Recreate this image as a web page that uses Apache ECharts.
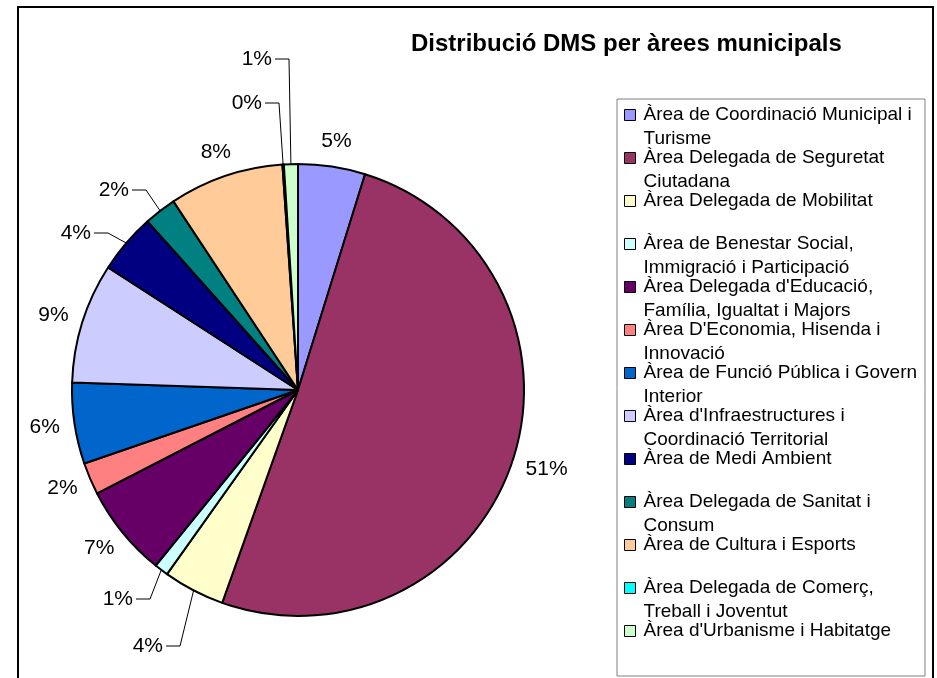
<!DOCTYPE html>
<html>
<head>
<meta charset="utf-8">
<script src="https://cdn.jsdelivr.net/npm/echarts@6/dist/echarts.min.js"></script>
<style>
html, body { margin: 0; padding: 0; background: #fff; }
#chart { width: 937px; height: 678px; }
</style>
</head>
<body>
<div id="chart"></div>
<script>
var categories = [
    "Àrea de Coordinació Municipal i Turisme",
    "Àrea Delegada de Seguretat Ciutadana",
    "Àrea Delegada de Mobilitat",
    "Àrea de Benestar Social, Immigració i Participació",
    "Àrea Delegada d'Educació, Família, Igualtat i Majors",
    "Àrea D'Economia, Hisenda i Innovació",
    "Àrea de Funció Pública i Govern Interior",
    "Àrea d'Infraestructures i Coordinació Territorial",
    "Àrea de Medi Ambient",
    "Àrea Delegada de Sanitat i Consum",
    "Àrea de Cultura i Esports",
    "Àrea Delegada de Comerç, Treball i Joventut",
    "Àrea d'Urbanisme i Habitatge"
];
var shares = [4.8, 50.7, 4.4, 1.0, 6.6, 2.3, 5.8, 8.6, 4.3, 2.3, 8.2, 0.1, 1.0];
var colors = ['#9999FF', '#993366', '#FFFFCC', '#CCFFFF', '#660066', '#FF8080', '#0066CC',
              '#CCCCFF', '#000080', '#008080', '#FFCC99', '#00FFFF', '#CCFFCC'];

// labels that were dragged away in the original, with a leader line: [right edge x, middle y]
var movedLabels = {2: [163, 646], 3: [133, 599], 8: [91, 233], 9: [129, 190], 11: [262, 103], 12: [272, 59]};

var cx = 298, cy = 390, r = 226;
var total = shares.reduce(function(a, b) { return a + b; }, 0);
var midAngles = [];
var acc = 0;
for (var i = 0; i < shares.length; i++) {
    midAngles.push((acc + shares[i] / 2) / total * 2 * Math.PI);
    acc += shares[i];
}

// wrap legend names the way the original legend does (about 31 chars a line)
var wrap = function(name) {
    var words = name.split(' ');
    var lines = [];
    var cur = '';
    for (var i = 0; i < words.length; i++) {
        var next = cur ? cur + ' ' + words[i] : words[i];
        if (next.length > 31 && cur) {
            lines.push(cur);
            cur = words[i];
        } else {
            cur = next;
        }
    }
    lines.push(cur);
    if (lines.length < 2) lines.push(' ');
    // blank first line so the marker lines up with the first text line
    return ' \n' + lines.join('\n');
};

var pieData = [];
for (var i = 0; i < shares.length; i++) {
    pieData.push({
        name: categories[i],
        value: shares[i],
        itemStyle: { color: colors[i] },
        labelLine: { show: !!movedLabels[i] }
    });
}

var option = {
    animation: false,
    title: {
        text: 'Distribució DMS per àrees municipals',
        left: 411,
        top: 32,
        padding: 0,
        textStyle: {
            fontFamily: 'Liberation Sans',
            fontSize: 24,
            fontWeight: 'bold',
            color: '#000'
        }
    },
    legend: {
        orient: 'vertical',
        left: 624,
        top: 79,
        padding: 0,
        itemGap: -29,
        itemWidth: 11,
        itemHeight: 11,
        icon: 'rect',
        selectedMode: false,
        itemStyle: { borderColor: '#000', borderWidth: 1 },
        formatter: wrap,
        textStyle: {
            fontFamily: 'Liberation Sans',
            fontSize: 19,
            lineHeight: 24,
            color: '#000',
            padding: [0, 0, 0, 3]
        },
        data: categories
    },
    graphic: [
        {
            type: 'rect',
            silent: true,
            shape: { x: 18, y: 7, width: 915, height: 700 },
            style: { fill: 'none', stroke: '#000', lineWidth: 2 }
        },
        {
            type: 'rect',
            silent: true,
            shape: { x: 617, y: 99, width: 308, height: 577 },
            style: { fill: 'none', stroke: '#808080', lineWidth: 1 }
        }
    ],
    series: [{
        type: 'pie',
        center: [cx, cy],
        radius: r,
        startAngle: 90,
        clockwise: true,
        avoidLabelOverlap: false,
        emphasis: { disabled: true },
        itemStyle: { borderColor: '#000', borderWidth: 2 },
        label: {
            show: true,
            position: 'outside',
            fontFamily: 'Liberation Sans',
            fontSize: 21,
            color: '#000',
            formatter: function(p) { return Math.round(p.percent) + '%'; }
        },
        labelLine: {
            length: 12,
            length2: 0,
            lineStyle: { color: '#000', width: 1 }
        },
        labelLayout: function(params) {
            var i = params.dataIndex;
            var a = midAngles[i];
            var dx = Math.sin(a), dy = -Math.cos(a);
            var ex = cx + r * dx, ey = cy + r * dy;
            var m = movedLabels[i];
            if (m) {
                return {
                    x: m[0], y: m[1], align: 'right', verticalAlign: 'middle',
                    labelLinePoints: [[ex, ey], [m[0] + 17, m[1]], [m[0] + 3, m[1]]]
                };
            }
            var w = params.labelRect.width, h = params.labelRect.height;
            var g = 15;
            return {
                x: cx + dx * (r + g + w / 2),
                y: cy + dy * (r + g + h / 2),
                align: 'center',
                verticalAlign: 'middle'
            };
        },
        data: pieData
    }]
};

var chart = echarts.init(document.getElementById('chart'));
chart.setOption(option);
</script>
</body>
</html>
